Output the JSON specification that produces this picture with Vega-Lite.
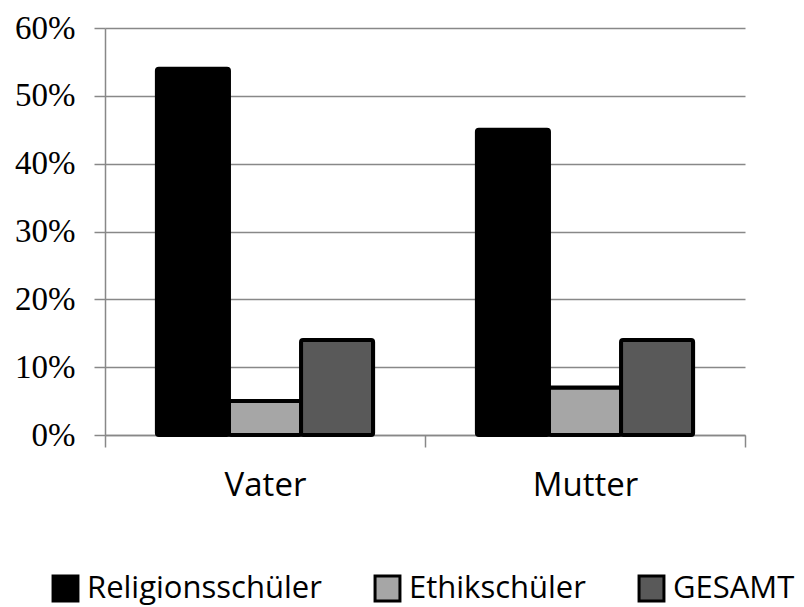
{
  "$schema": "https://vega.github.io/schema/vega-lite/v6.json",
  "width": 640,
  "height": 407,
  "autosize": {"type": "none"},
  "padding": {"left": 105, "top": 28, "right": 59, "bottom": 172},
  "background": "white",
  "data": {
    "values": [
      {"person": "Vater", "gruppe": "Religionsschüler", "anteil": 0.54},
      {"person": "Vater", "gruppe": "Ethikschüler", "anteil": 0.05},
      {"person": "Vater", "gruppe": "GESAMT", "anteil": 0.14},
      {"person": "Mutter", "gruppe": "Religionsschüler", "anteil": 0.45},
      {"person": "Mutter", "gruppe": "Ethikschüler", "anteil": 0.07},
      {"person": "Mutter", "gruppe": "GESAMT", "anteil": 0.14}
    ]
  },
  "mark": {"type": "bar", "stroke": "black", "strokeWidth": 4, "strokeJoin": "round", "cornerRadius": 2},
  "encoding": {
    "x": {
      "field": "person",
      "type": "nominal",
      "sort": ["Vater", "Mutter"],
      "scale": {"paddingInner": 0, "paddingOuter": 0},
      "axis": {
        "title": null,
        "labelAngle": 0,
        "labelFont": "Open Sans",
        "labelFontSize": 33,
        "labelColor": "black",
        "labelPadding": 22,
        "domainColor": "#888888",
        "domainWidth": 1.5,
        "tickColor": "#888888",
        "tickWidth": 1.5,
        "tickSize": 12,
        "tickBand": "extent",
        "grid": false
      }
    },
    "xOffset": {
      "field": "gruppe",
      "type": "nominal",
      "sort": ["Religionsschüler", "Ethikschüler", "GESAMT"],
      "scale": {"paddingOuter": 0.72, "paddingInner": 0}
    },
    "y": {
      "field": "anteil",
      "type": "quantitative",
      "scale": {"domain": [0, 0.6], "nice": false},
      "axis": {
        "title": null,
        "values": [0, 0.1, 0.2, 0.3, 0.4, 0.5, 0.6],
        "format": ".0%",
        "labelFont": "Liberation Serif",
        "labelFontSize": 33,
        "labelColor": "black",
        "labelPadding": 19,
        "domainColor": "#888888",
        "domainWidth": 1.5,
        "tickColor": "#888888",
        "tickWidth": 1.5,
        "tickSize": 11,
        "grid": true,
        "gridColor": "#888888",
        "gridWidth": 1.5
      }
    },
    "fill": {
      "field": "gruppe",
      "type": "nominal",
      "sort": ["Religionsschüler", "Ethikschüler", "GESAMT"],
      "scale": {"domain": ["Religionsschüler", "Ethikschüler", "GESAMT"], "range": ["#000000", "#a6a6a6", "#595959"]},
      "legend": {
        "title": null,
        "orient": "none",
        "direction": "horizontal",
        "legendX": -55,
        "legendY": 545,
        "symbolType": "square",
        "symbolSize": 620,
        "symbolStrokeColor": "black",
        "symbolStrokeWidth": 3,
        "symbolOpacity": 1,
        "labelFont": "Open Sans",
        "labelFontSize": 31,
        "labelColor": "black",
        "labelOffset": 6,
        "columnPadding": 47,
        "labelLimit": 400
      }
    }
  },
  "config": {"view": {"stroke": null}}
}
